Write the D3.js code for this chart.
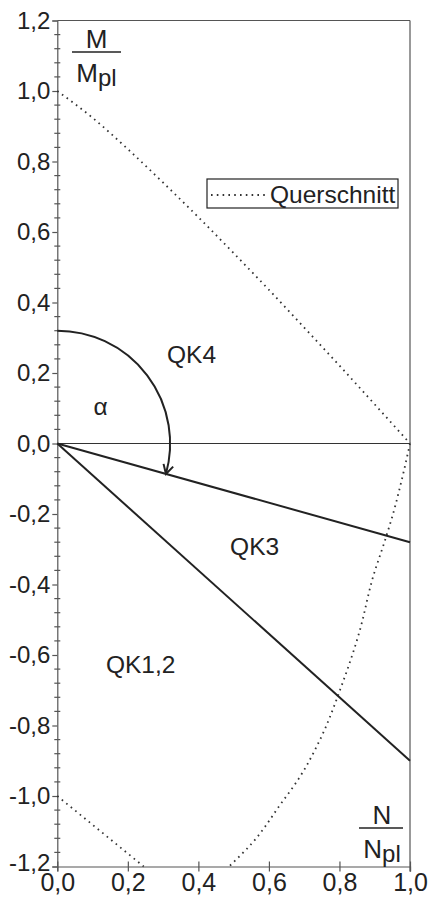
<!DOCTYPE html>
<html>
<head>
<meta charset="utf-8">
<script src="https://cdn.jsdelivr.net/npm/d3@7"></script>
<style>
  html, body { margin: 0; padding: 0; background: #fff; }
  svg { display: block; font-family: "Liberation Sans", Arial, sans-serif; }
</style>
</head>
<body>
<svg id="chart" width="429" height="905"></svg>
<script>
// Axis ticks
const xTickValues = [0, 0.2, 0.4, 0.6, 0.8, 1.0];
const yTickValues = [-1.2, -1.0, -0.8, -0.6, -0.4, -0.2, 0, 0.2, 0.4, 0.6, 0.8, 1.0, 1.2];
const yMinorStep = 0.04;

// Limit lines between cross-section classes (N/Npl, M/Mpl)
const limitQK3 = [[0, 0], [1.0, -0.28]];
const limitQK12 = [[0, 0], [1.0, -0.9]];

// Plastic interaction curve of the cross-section ("Querschnitt")
const curveUpper = [
  [0.0, 1.0], [0.1, 0.924], [0.2, 0.835], [0.3, 0.74], [0.4, 0.642],
  [0.5, 0.54], [0.6, 0.436], [0.7, 0.329], [0.8, 0.221], [0.9, 0.111], [1.0, 0.0]
];
const curveLowerRight = [
  [1.0, 0.0], [0.974, -0.114], [0.953, -0.196], [0.929, -0.275], [0.896, -0.376],
  [0.855, -0.54], [0.805, -0.69], [0.745, -0.84], [0.685, -0.95], [0.634, -1.022],
  [0.552, -1.134], [0.487, -1.2]
];
const curveLowerLeft = [[0.0, -1.0], [0.245, -1.2]];

// Region labels
const regionLabels = [
  { text: "QK4", n: 0.311, m: 0.229 },
  { text: "QK3", n: 0.490, m: -0.317 },
  { text: "QK1,2", n: 0.138, m: -0.650 }
];

const fmt = v => d3.format(".1f")(v).replace(".", ",").replace("−", "-");

const svg = d3.select("#chart");
const x = d3.scaleLinear().domain([0, 1]).range([57.3, 410]);
const y = d3.scaleLinear().domain([-1.2, 1.2]).range([866.5, 20.5]);

const ink = "#222";
const frame = "#555";

// frame: top and right edges
svg.append("line").attr("x1", x(0)).attr("x2", x(1)).attr("y1", y(1.2)).attr("y2", y(1.2))
  .attr("stroke", frame).attr("stroke-width", 1.2);
svg.append("line").attr("x1", x(1)).attr("x2", x(1)).attr("y1", y(1.2)).attr("y2", y(-1.2) + 5)
  .attr("stroke", frame).attr("stroke-width", 1.2);

// zero line
svg.append("line").attr("x1", x(0)).attr("x2", x(1)).attr("y1", y(0)).attr("y2", y(0))
  .attr("stroke", "#333").attr("stroke-width", 1.1);

// y axis
const yAxis = svg.append("g").attr("transform", `translate(${x(0)},0)`)
  .call(d3.axisLeft(y).tickValues(yTickValues).tickFormat(fmt).tickSize(5).tickPadding(2));
yAxis.select(".domain").attr("stroke", frame).attr("stroke-width", 1.2);
yAxis.selectAll(".tick line").attr("stroke", frame).attr("stroke-width", 1.2);
yAxis.selectAll(".tick text").attr("font-size", 24).attr("fill", ink)
  .attr("font-family", "Liberation Sans, Arial, sans-serif");
// lift the bottom label a little so it clears the first N label
yAxis.selectAll(".tick").filter(d => d === -1.2).select("text").attr("y", -4);

// y minor ticks, crossing the axis
const minor = d3.range(-1.2, 1.2001, yMinorStep).map(v => +v.toFixed(2))
  .filter(v => !yTickValues.some(t => Math.abs(t - v) < 1e-6));
svg.append("g").selectAll("line").data(minor).join("line")
  .attr("x1", x(0) - 3).attr("x2", x(0) + 3)
  .attr("y1", d => y(d)).attr("y2", d => y(d))
  .attr("stroke", frame).attr("stroke-width", 1.2);

// x axis
const xAxis = svg.append("g").attr("transform", `translate(0,${y(-1.2)})`)
  .call(d3.axisBottom(x).tickValues(xTickValues).tickFormat(fmt).tickSize(5).tickPadding(2));
xAxis.select(".domain").attr("stroke", frame).attr("stroke-width", 1.2);
xAxis.selectAll(".tick line").attr("y1", -5).attr("y2", 5).attr("stroke", frame).attr("stroke-width", 1.2);
xAxis.selectAll(".tick text").attr("font-size", 25).attr("fill", ink)
  .attr("font-family", "Liberation Sans, Arial, sans-serif");

// interaction curve (dotted)
const line = d3.line().x(d => x(d[0])).y(d => y(d[1]));
const dotted = { stroke: "#333", "stroke-width": 1.8, "stroke-dasharray": "1.6,4.2", fill: "none" };
function applyStyle(sel, st) { Object.entries(st).forEach(([k, v]) => sel.attr(k, v)); return sel; }
applyStyle(svg.append("path").attr("d", d3.line().x(d => x(d[0])).y(d => y(d[1])).curve(d3.curveMonotoneX)(curveUpper)), dotted);
applyStyle(svg.append("path").attr("d", d3.line().x(d => x(d[0])).y(d => y(d[1])).curve(d3.curveMonotoneY)(curveLowerRight)), dotted);
applyStyle(svg.append("path").attr("d", line(curveLowerLeft)), dotted);

// class limit lines
[limitQK3, limitQK12].forEach(seg => {
  svg.append("path").attr("d", line(seg)).attr("stroke", ink).attr("stroke-width", 2).attr("fill", "none");
});

// angle arc with arrow, from the M axis down to the QK3 limit
const defs = svg.append("defs");
defs.append("marker").attr("id", "arrow").attr("viewBox", "-12 -7 14 14")
  .attr("refX", 0).attr("refY", 0).attr("markerWidth", 14).attr("markerHeight", 14)
  .attr("markerUnits", "userSpaceOnUse").attr("orient", "auto")
  .append("path").attr("d", "M-9,-5 L0,0 L-9,5").attr("fill", "none")
  .attr("stroke", ink).attr("stroke-width", 2).attr("stroke-linejoin", "miter");

const arcR = y(0) - y(0.32);
const cx = x(0), cy = y(0);
const endAngle = Math.atan2(y(limitQK3[1][1]) - cy, x(limitQK3[1][0]) - cx);
const p = d3.path();
p.moveTo(cx, cy - arcR);
p.arc(cx, cy, arcR, -Math.PI / 2, endAngle, false);
svg.append("path").attr("d", p.toString()).attr("fill", "none")
  .attr("stroke", ink).attr("stroke-width", 2).attr("marker-end", "url(#arrow)");

// region labels
svg.append("g").selectAll("text").data(regionLabels).join("text")
  .attr("x", d => x(d.n)).attr("y", d => y(d.m))
  .attr("font-size", 24.5).attr("fill", ink).text(d => d.text);
svg.append("text").attr("x", x(0.123)).attr("y", y(0.081))
  .attr("text-anchor", "middle").attr("font-size", 24.5).attr("fill", ink).text("α");

// axis titles as fractions
function fraction(cxp, lineY, x1, x2, sym) {
  const g = svg.append("g");
  g.append("text").attr("x", cxp).attr("y", lineY - 4).attr("text-anchor", "middle")
    .attr("font-size", 26).attr("fill", ink).text(sym);
  g.append("line").attr("x1", x1).attr("x2", x2).attr("y1", lineY).attr("y2", lineY)
    .attr("stroke", ink).attr("stroke-width", 1.6);
  const t = g.append("text").attr("x", cxp).attr("y", lineY + 30).attr("text-anchor", "middle")
    .attr("font-size", 26).attr("fill", ink);
  t.append("tspan").text(sym);
  t.append("tspan").attr("dy", 4).attr("font-size", 24).text("pl");
}
fraction(96.5, 52, 72, 121, "M");
fraction(382, 828, 359, 403, "N");

// legend
const lg = svg.append("g");
lg.append("rect").attr("x", 207).attr("y", 179).attr("width", 191).attr("height", 29)
  .attr("fill", "#fff").attr("stroke", ink).attr("stroke-width", 1.2);
applyStyle(lg.append("line").attr("x1", 211).attr("x2", 268).attr("y1", 195).attr("y2", 195), dotted);
lg.append("text").attr("x", 270).attr("y", 203).attr("font-size", 24.5).attr("fill", ink).text("Querschnitt");
</script>
</body>
</html>
